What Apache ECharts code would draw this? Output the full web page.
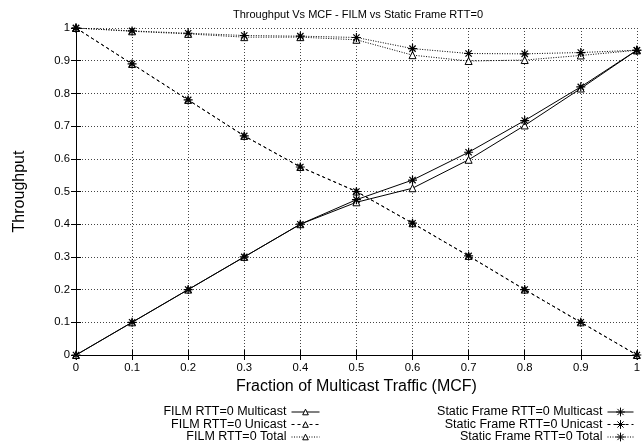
<!DOCTYPE html>
<html><head><meta charset="utf-8">
<script src="https://cdn.jsdelivr.net/npm/echarts@6/dist/echarts.min.js"></script>
<style>html,body{margin:0;padding:0;background:#fff}#c{width:643px;height:448px}</style>
</head><body><div id="c"></div>
<script>
const mcf = [0, 0.1, 0.2, 0.3, 0.4, 0.5, 0.6, 0.7, 0.8, 0.9, 1];
const filmMulticast = [0, 0.1, 0.2, 0.3, 0.4, 0.467, 0.51, 0.597, 0.702, 0.815, 0.932];
const filmUnicast = [1, 0.89, 0.78, 0.67, 0.575, 0.5, 0.403, 0.303, 0.2, 0.1, 0];
const filmTotal = [1, 0.99, 0.982, 0.972, 0.972, 0.964, 0.917, 0.899, 0.902, 0.916, 0.932];
const staticMulticast = [0, 0.1, 0.2, 0.3, 0.4, 0.475, 0.535, 0.62, 0.717, 0.82, 0.932];
const staticUnicast = [1, 0.89, 0.78, 0.67, 0.575, 0.5, 0.403, 0.303, 0.2, 0.1, 0];
const staticTotal = [1, 0.991, 0.984, 0.977, 0.975, 0.971, 0.937, 0.922, 0.921, 0.925, 0.932];
const xTicks = [0, 0.1, 0.2, 0.3, 0.4, 0.5, 0.6, 0.7, 0.8, 0.9, 1];

const FONT = 'Liberation Sans, Arial, sans-serif';
const star = 'path://M5,0L5,10M0,5L10,5M1.5,1.5L8.5,8.5M8.5,1.5L1.5,8.5';
const pairs = arr => mcf.map((x, i) => [x, arr[i]]);
const styles = { solid: 'solid', dash: [3, 3], dot: [1, 1.5] };

function mk(name, arr, type, sym) {
  const isStar = sym === 'star';
  return {
    name, type: 'line', data: pairs(arr),
    symbol: isStar ? star : 'triangle',
    symbolSize: isStar ? 9 : 7,
    showSymbol: true,
    lineStyle: { color: '#000', width: 1, type: styles[type] },
    itemStyle: isStar ? { color: 'rgba(0,0,0,0)', borderColor: '#000', borderWidth: 1.2 }
                      : { color: '#fff', borderColor: '#000', borderWidth: 1 },
    emphasis: { disabled: true },
    animation: false, z: 3
  };
}

const series = [
  mk('FILM RTT=0 Multicast', filmMulticast, 'solid', 'tri'),
  mk('FILM RTT=0 Unicast', filmUnicast, 'dash', 'tri'),
  mk('FILM RTT=0 Total', filmTotal, 'dot', 'tri'),
  mk('Static Frame RTT=0 Multicast', staticMulticast, 'solid', 'star'),
  mk('Static Frame RTT=0 Unicast', staticUnicast, 'dash', 'star'),
  mk('Static Frame RTT=0 Total', staticTotal, 'dot', 'star')
];

const rowCenters = [412, 424.5, 437];
const legends = series.map((s, i) => {
  const isStar = i >= 3;
  const h = isStar ? 11 : 7;
  return {
    data: [s.name],
    right: isStar ? 9 : 323,
    top: rowCenters[i % 3] - 7,
    orient: 'vertical',
    align: 'right',
    itemWidth: isStar ? 26 : 28, itemHeight: h,
    selectedMode: false,
    lineStyle: { width: 1 },
    itemStyle: isStar ? { color: 'rgba(0,0,0,0)', borderColor: '#000', borderWidth: 1 }
                      : { color: '#fff', borderColor: '#000', borderWidth: 1 },
    textStyle: { fontFamily: FONT, fontSize: 12.5, color: '#000', lineHeight: 14 },
    padding: 0
  };
});

const axisCommon = {
  type: 'value', min: 0, max: 1, interval: 0.1,
  axisLine: { show: true, lineStyle: { color: '#000', width: 1 } },
  axisTick: { show: true, inside: true, length: 5, lineStyle: { color: '#000' } },
  axisLabel: { fontFamily: FONT, fontSize: 11, color: '#000' }
};

const option = {
  animation: false,
  title: {
    text: 'Throughput Vs MCF - FILM vs Static Frame RTT=0',
    left: 353, top: 4, textAlign: 'center',
    textStyle: { fontFamily: FONT, fontSize: 11, fontWeight: 'normal', color: '#000' }
  },
  legend: legends,
  grid: { left: 76, right: 6, top: 28, bottom: 93 },
  xAxis: [
    Object.assign({}, axisCommon, {
      position: 'bottom',
      name: 'Fraction of Multicast Traffic (MCF)', nameLocation: 'middle', nameGap: 24,
      nameTextStyle: { fontFamily: FONT, fontSize: 16, color: '#000' },
      axisLabel: { fontFamily: FONT, fontSize: 11.3, color: '#000', margin: 7,
        formatter: v => String(+v.toFixed(1)) },
      splitLine: { show: true, lineStyle: { color: '#444', type: [1, 2], width: 1 } }
    }),
    Object.assign({}, axisCommon, {
      position: 'top', axisLabel: { show: false }, splitLine: { show: false }
    })
  ],
  yAxis: [
    Object.assign({}, axisCommon, {
      position: 'left',
      name: 'Throughput', nameLocation: 'middle', nameGap: 48,
      nameTextStyle: { fontFamily: FONT, fontSize: 16, color: '#000' },
      axisLabel: { fontFamily: FONT, fontSize: 11.3, color: '#000', margin: 6,
        formatter: v => String(+v.toFixed(1)) },
      splitLine: { show: true, lineStyle: { color: '#444', type: [1, 2], width: 1 } }
    }),
    Object.assign({}, axisCommon, {
      position: 'right', axisLabel: { show: false }, splitLine: { show: false }
    })
  ],
  series
};
const chart = echarts.init(document.getElementById('c'), null, { renderer: 'canvas' });
chart.setOption(option);
</script></body></html>
